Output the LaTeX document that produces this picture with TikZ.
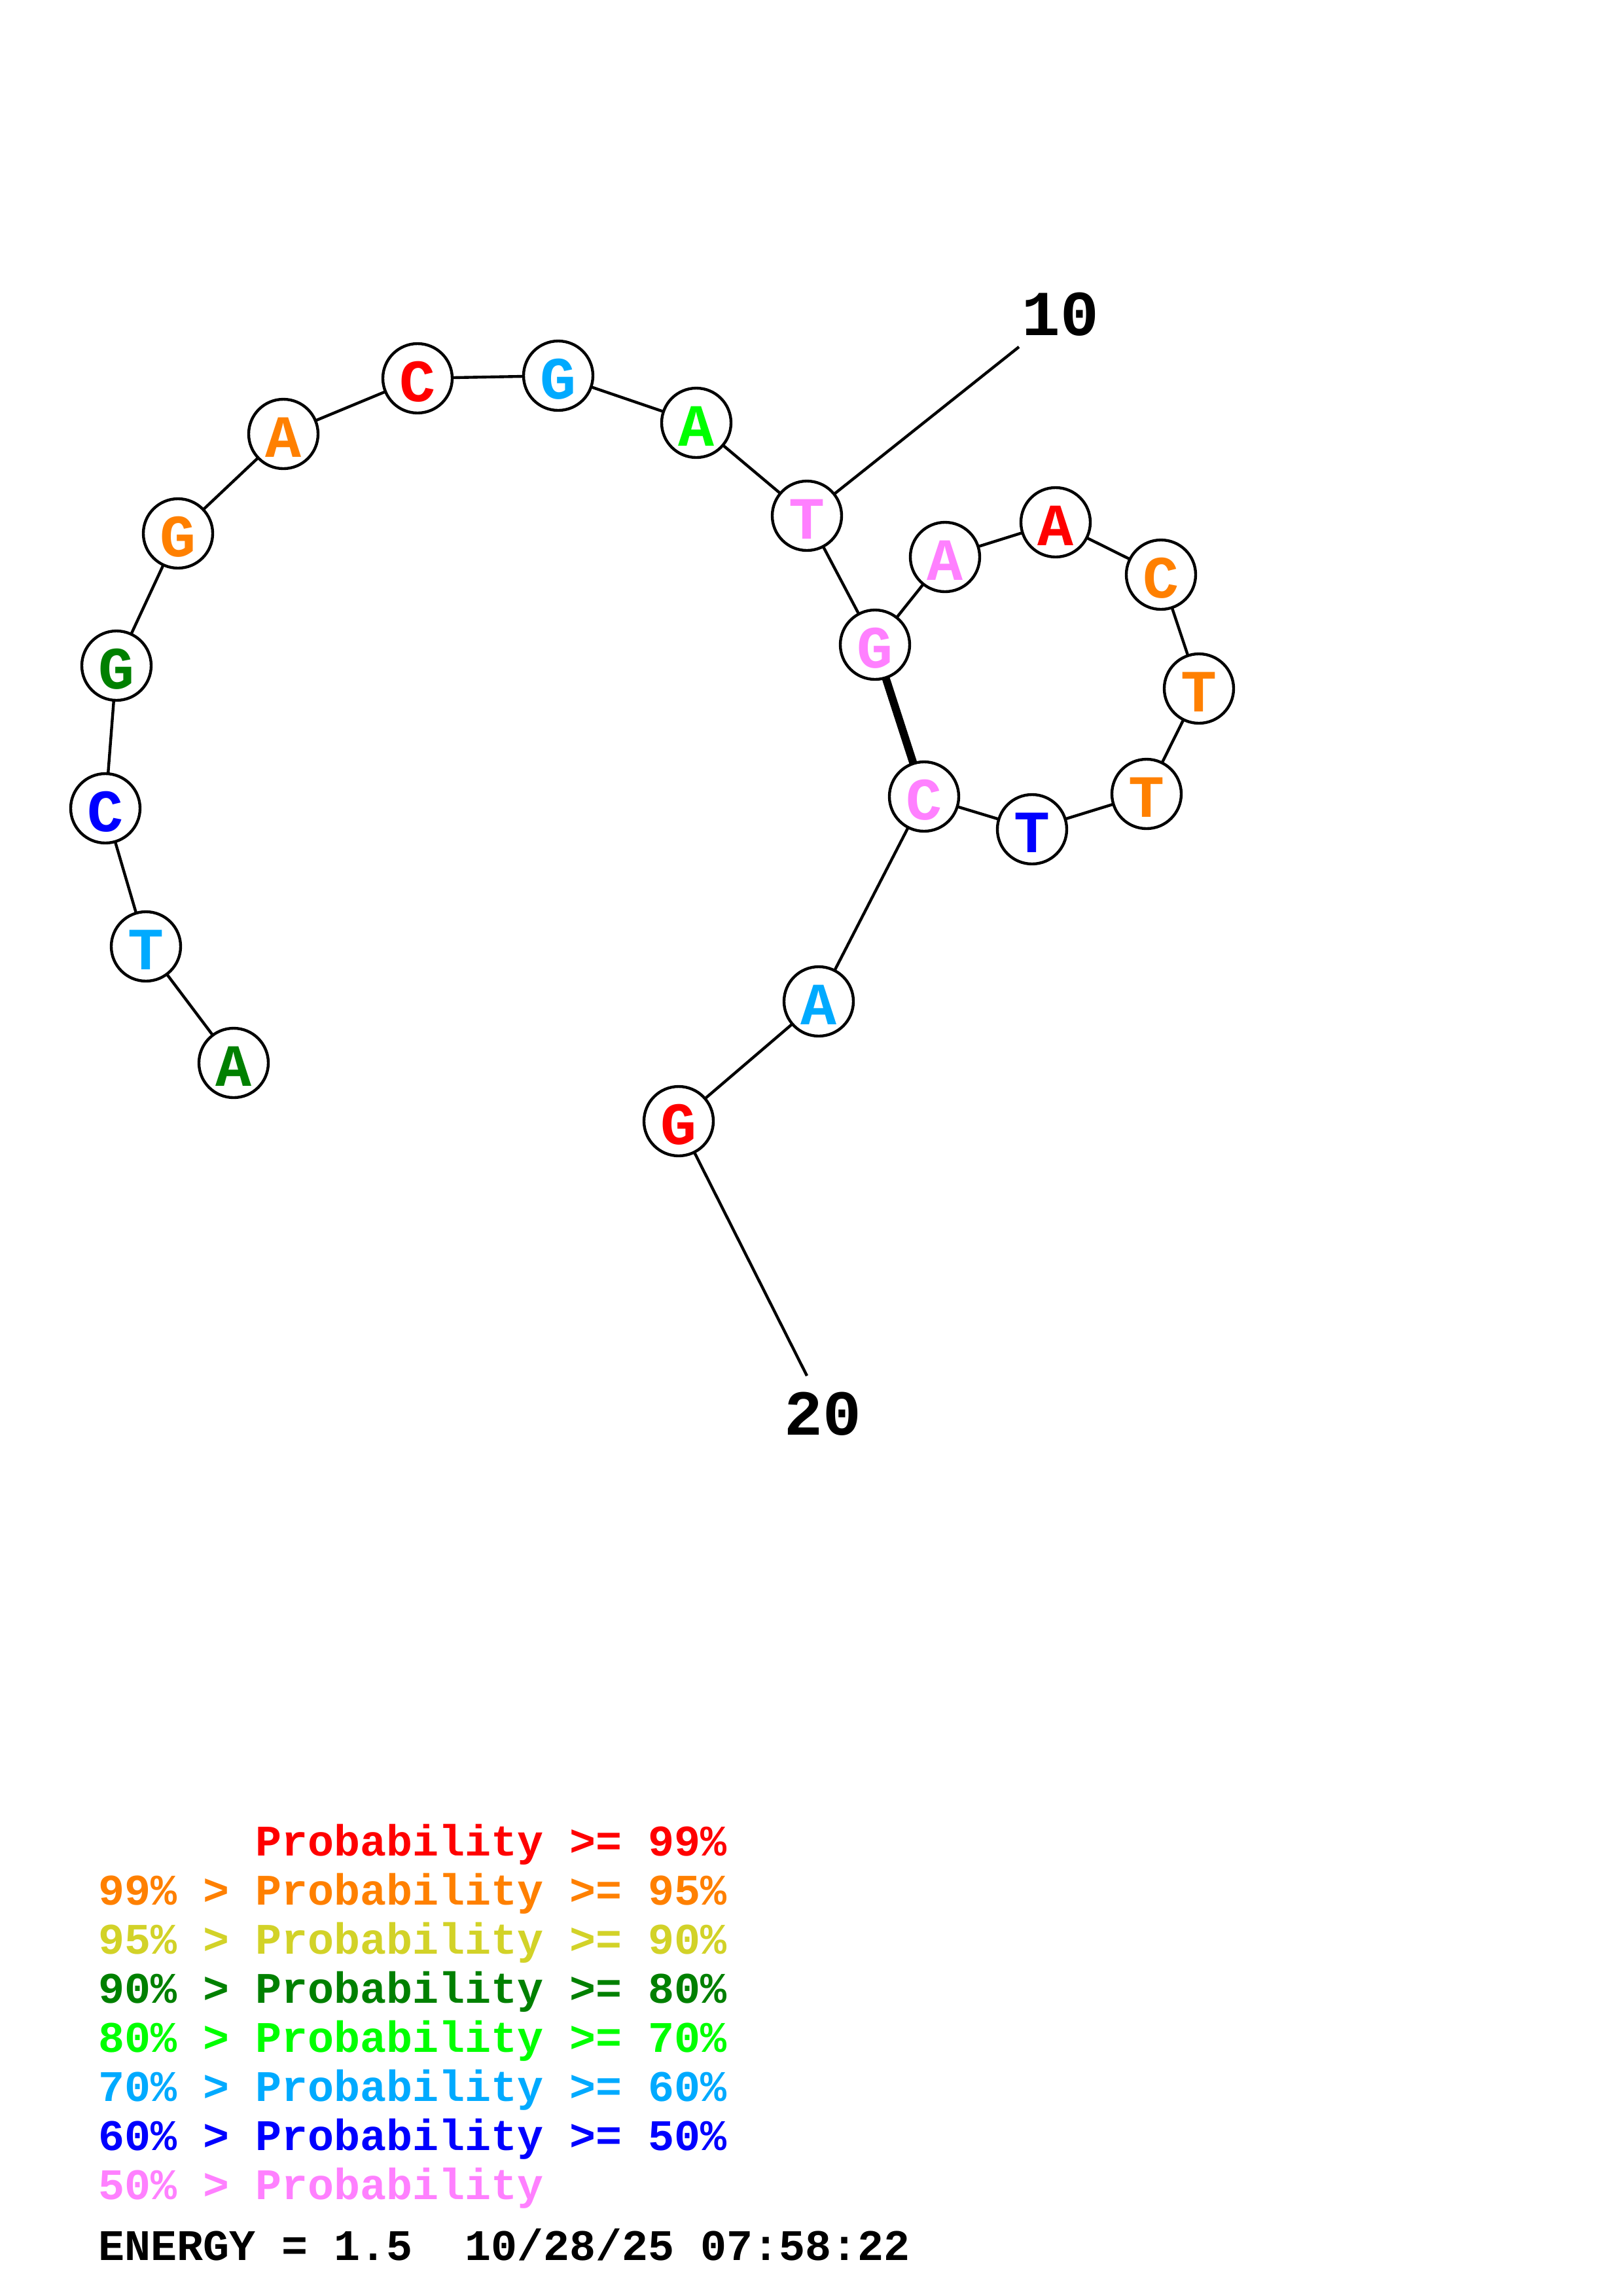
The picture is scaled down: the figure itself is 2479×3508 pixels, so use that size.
\documentclass[tikz,border=0pt]{standalone}
\usepackage{fontspec}
\newfontfamily\monob{Liberation Mono}
\definecolor{cred}{RGB}{255,0,0}
\definecolor{corange}{RGB}{255,128,0}
\definecolor{cyellow}{RGB}{210,210,40}
\definecolor{cdkgreen}{RGB}{0,128,0}
\definecolor{cgreen}{RGB}{0,255,0}
\definecolor{cltblue}{RGB}{0,170,255}
\definecolor{cblue}{RGB}{0,0,255}
\definecolor{cpink}{RGB}{255,128,255}
\tikzset{
  base/.style={circle, draw=black, line width=1.05bp, fill=white, inner sep=0pt, outer sep=0pt,
    minimum size=25.44bp, font=\monob\bfseries\fontsize{22bp}{22bp}\selectfont,
    text height=17.2bp, text depth=0pt},
  bond/.style={line width=1.05bp, black},
  pairbond/.style={line width=2.9bp, black},
  numlabel/.style={font=\monob\bfseries\fontsize{23.5bp}{23.5bp}\selectfont, inner sep=0pt},
  legend/.style={anchor=base west, inner sep=0pt, font=\monob\bfseries\fontsize{16bp}{16bp}\selectfont}
}
\begin{document}
\begin{tikzpicture}[x=0.24bp, y=-0.24bp]
\useasboundingbox[fill=white] (0,0) rectangle (2479,3508);
% bases
\node[base, text=cdkgreen] (n1) at (357,1624) {A};
\node[base, text=cltblue]  (n2) at (223,1446) {T};
\node[base, text=cblue]    (n3) at (161,1235) {C};
\node[base, text=cdkgreen] (n4) at (178,1017) {G};
\node[base, text=corange]  (n5) at (272,815) {G};
\node[base, text=corange]  (n6) at (433,663) {A};
\node[base, text=cred]     (n7) at (638,578) {C};
\node[base, text=cltblue]  (n8) at (853,574) {G};
\node[base, text=cgreen]   (n9) at (1064,646) {A};
\node[base, text=cpink]    (n10) at (1233,788) {T};
\node[base, text=cpink]    (n11) at (1337,985) {G};
\node[base, text=cpink]    (n12) at (1444,851) {A};
\node[base, text=cred]     (n13) at (1613,798) {A};
\node[base, text=corange]  (n14) at (1774,878) {C};
\node[base, text=corange]  (n15) at (1832,1052) {T};
\node[base, text=corange]  (n16) at (1752,1213) {T};
\node[base, text=cblue]    (n17) at (1577,1267) {T};
\node[base, text=cpink]    (n18) at (1412,1217) {C};
\node[base, text=cltblue]  (n19) at (1251,1530) {A};
\node[base, text=cred]     (n20) at (1037,1713) {G};
% backbone
\draw[bond] (n1) -- (n2);
\draw[bond] (n2) -- (n3);
\draw[bond] (n3) -- (n4);
\draw[bond] (n4) -- (n5);
\draw[bond] (n5) -- (n6);
\draw[bond] (n6) -- (n7);
\draw[bond] (n7) -- (n8);
\draw[bond] (n8) -- (n9);
\draw[bond] (n9) -- (n10);
\draw[bond] (n10) -- (n11);
\draw[bond] (n11) -- (n12);
\draw[bond] (n12) -- (n13);
\draw[bond] (n13) -- (n14);
\draw[bond] (n14) -- (n15);
\draw[bond] (n15) -- (n16);
\draw[bond] (n16) -- (n17);
\draw[bond] (n17) -- (n18);
\draw[bond] (n18) -- (n19);
\draw[bond] (n19) -- (n20);
% base pair
\draw[pairbond] (n11) -- (n18);
% number labels
\coordinate (t10) at (1557,530);
\coordinate (t20) at (1233,2102);
\draw[bond] (n10) -- (t10);
\draw[bond] (n20) -- (t20);
\node[numlabel] (l10) at (1620,480) {10};
\node[numlabel] (l20) at (1257,2160) {20};
% legend
\node[legend, text=cred]     (g1) at (390,2835) {Probability >= 99\%};
\node[legend, text=corange]  (g2) at (150,2910) {99\% > Probability >= 95\%};
\node[legend, text=cyellow]  (g3) at (150,2985) {95\% > Probability >= 90\%};
\node[legend, text=cdkgreen] (g4) at (150,3060) {90\% > Probability >= 80\%};
\node[legend, text=cgreen]   (g5) at (150,3135) {80\% > Probability >= 70\%};
\node[legend, text=cltblue]  (g6) at (150,3210) {70\% > Probability >= 60\%};
\node[legend, text=cblue]    (g7) at (150,3285) {60\% > Probability >= 50\%};
\node[legend, text=cpink]    (g8) at (150,3360) {50\% > Probability};
\node[legend, text=black]    (g9) at (150,3453) {ENERGY = 1.5\ \ 10/28/25 07:58:22};
\end{tikzpicture}
\end{document}
